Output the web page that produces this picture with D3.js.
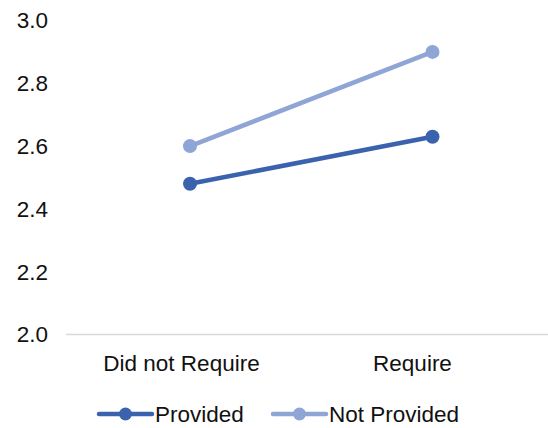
<!DOCTYPE html>
<html>
<head>
<meta charset="utf-8">
<script src="https://cdn.jsdelivr.net/npm/d3@7"></script>
<style>
  html, body { margin: 0; padding: 0; background: #fff; }
  svg { display: block; font-family: "Liberation Sans", Arial, sans-serif; }
</style>
</head>
<body>
<svg id="chart" width="548" height="428"></svg>
<script>
// Categories and series
const categories = ["Did not Require", "Require"];
const seriesNames = ["Provided", "Not Provided"];
const provided = [2.48, 2.63];
const notProvided = [2.60, 2.90];
const yTicks = [2.0, 2.2, 2.4, 2.6, 2.8, 3.0];

const colors = { "Provided": "#3b63ad", "Not Provided": "#8fa5d6" };
const series = [
  { name: seriesNames[0], values: provided },
  { name: seriesNames[1], values: notProvided }
];

const FONT = 22.5;
const svg = d3.select("#chart");

const y = d3.scaleLinear().domain([2.0, 3.0]).range([334.5, 20.5]);
// marker positions
const x = d3.scalePoint().domain(categories).range([190, 432.5]);
// category label slots
const xLab = d3.scaleBand().domain(categories).range([66, 528]);

// baseline
svg.append("line")
  .attr("x1", 66).attr("x2", 548)
  .attr("y1", y(2.0)).attr("y2", y(2.0))
  .attr("stroke", "#d9d9d9").attr("stroke-width", 1.3);

// y tick labels
svg.append("g").selectAll("text").data(yTicks).join("text")
  .attr("x", 48).attr("y", d => y(d)).attr("dy", "0.35em")
  .attr("text-anchor", "end")
  .attr("font-size", FONT).attr("fill", "#111")
  .text(d => d.toFixed(1));

// category labels
svg.append("g").selectAll("text").data(categories).join("text")
  .attr("x", d => xLab(d) + xLab.bandwidth() / 2).attr("y", 363).attr("dy", "0.35em")
  .attr("text-anchor", "middle")
  .attr("font-size", FONT).attr("fill", "#111")
  .text(d => d);

// lines and markers
const line = d3.line().x((d, i) => x(categories[i])).y(d => y(d));
series.forEach(s => {
  const g = svg.append("g");
  g.append("path").datum(s.values)
    .attr("d", line)
    .attr("fill", "none")
    .attr("stroke", colors[s.name])
    .attr("stroke-width", 4.5)
    .attr("stroke-linecap", "round");
  g.selectAll("circle").data(s.values).join("circle")
    .attr("cx", (d, i) => x(categories[i]))
    .attr("cy", d => y(d))
    .attr("r", 7)
    .attr("fill", colors[s.name]);
});

// legend
const legendItems = [
  { name: "Provided", x0: 99 },
  { name: "Not Provided", x0: 273 }
];
const lg = svg.append("g");
legendItems.forEach(it => {
  const g = lg.append("g").attr("transform", `translate(${it.x0},414)`);
  g.append("line").attr("x1", 0).attr("x2", 53).attr("y1", 0).attr("y2", 0)
    .attr("stroke", colors[it.name]).attr("stroke-width", 4.5).attr("stroke-linecap", "round");
  g.append("circle").attr("cx", 26.5).attr("cy", 0).attr("r", 6.5).attr("fill", colors[it.name]);
  g.append("text").attr("x", 56).attr("y", 0).attr("dy", "0.35em")
    .attr("font-size", FONT).attr("fill", "#111").text(it.name);
});
</script>
</body>
</html>
